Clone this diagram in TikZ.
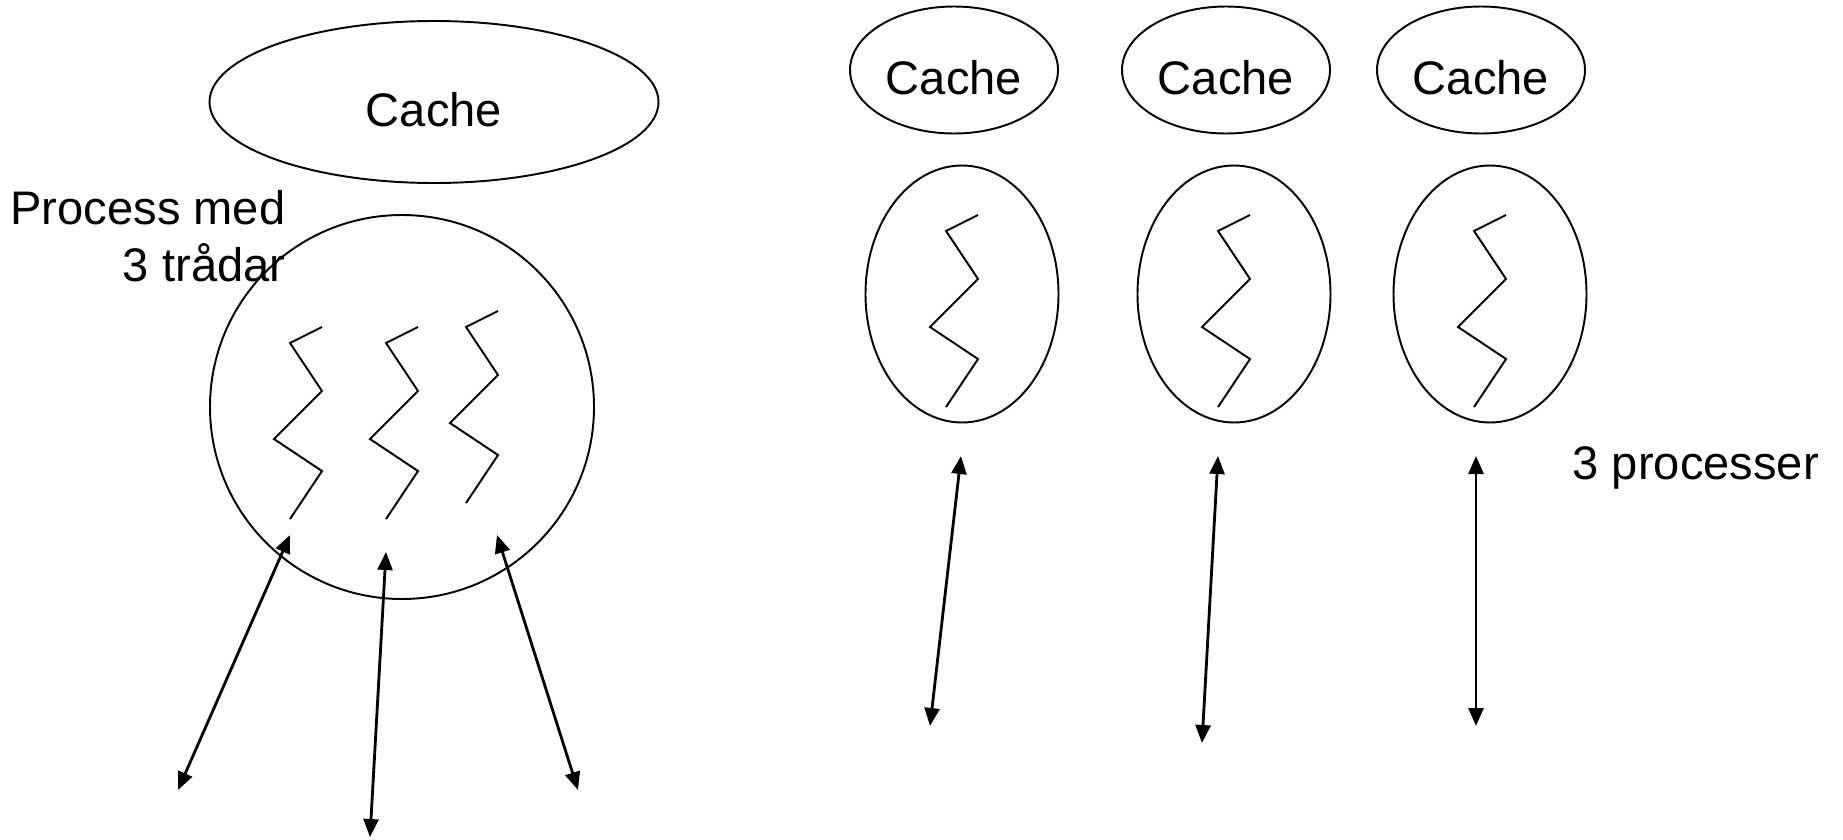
\documentclass[tikz,border=0pt]{standalone}
\usepackage{fontspec}
\setmainfont{Liberation Sans}
\usetikzlibrary{shapes.geometric,arrows.meta}
\tikzset{
  bigfont/.style={font=\fontsize{13.4}{16.2}\selectfont},
  cache/.style={draw, ellipse, inner sep=0pt, line width=.55pt, text height=.5cm, bigfont},
  proc/.style={draw, line width=.55pt},
  txt/.style={inner sep=0pt, bigfont},
  thread/.style={line width=.55pt},
  link/.style={line width=.8pt, {Triangle[length=1.8mm,width=1.5mm]}-{Triangle[length=1.8mm,width=1.5mm]}}
}
\begin{document}
\begin{tikzpicture}[x=.1mm,y=-.1mm]
\useasboundingbox (0,0) rectangle (1843,839);
% one process with three threads
\node[cache, minimum width=4.49cm, minimum height=1.62cm] (bigcache) at (434,102) {Cache};
\node[proc, circle, minimum size=3.84cm] (bigproc) at (402,407) {};
\node[txt, anchor=base east] (procmed) at (286,224) {Process med};
\node[txt, anchor=base east] (tradar) at (286,281) {3 trådar};
\foreach \x/\y in {322/327,418/327,498/311}
  \draw[thread] (\x,\y) -- ++(-32,16) -- ++(32,48) -- ++(-48,48) -- ++(48,32) -- ++(-32,48);
\coordinate (lt1) at (290,535); \coordinate (lb1) at (178,790);
\coordinate (lt2) at (386,552); \coordinate (lb2) at (370,837);
\coordinate (lt3) at (497,535); \coordinate (lb3) at (578,790);
\foreach \i in {1,2,3}
  \draw[link] (lt\i) -- (lb\i);
% three processes
\foreach \i/\x in {1/954,2/1226,3/1481}
  \node[cache, minimum width=2.08cm, minimum height=1.27cm] (cache\i) at (\x,70) {Cache};
\foreach \i/\x in {1/962,2/1234,3/1490} {
  \node[proc, ellipse, minimum width=1.93cm, minimum height=2.57cm] (proc\i) at (\x,294) {};
  \draw[thread] (\x+16,215) -- ++(-32,16) -- ++(32,48) -- ++(-48,48) -- ++(48,32) -- ++(-32,48);
}
\coordinate (rt1) at (961,456); \coordinate (rb1) at (930,726);
\coordinate (rt2) at (1218,456); \coordinate (rb2) at (1202,743);
\coordinate (rt3) at (1476,456); \coordinate (rb3) at (1476,726);
\foreach \i in {1,2,3}
  \draw[link] (rt\i) -- (rb\i);
\node[txt, anchor=base west] (nproc) at (1572,479) {3 processer};
\end{tikzpicture}
\end{document}
